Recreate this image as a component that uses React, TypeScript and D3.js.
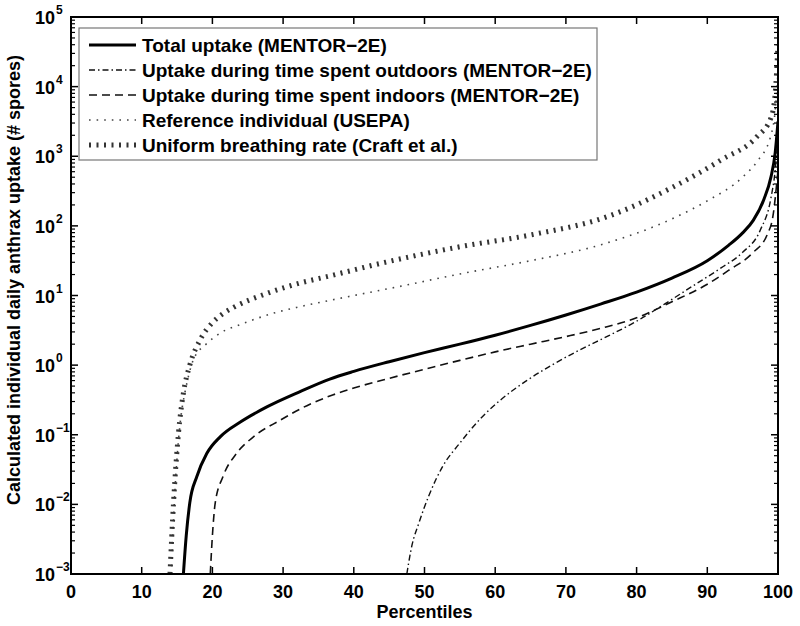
import React from "react";
import * as d3 from "d3";

// ---- data ----
const xTicks = [0, 10, 20, 30, 40, 50, 60, 70, 80, 90, 100];
const yExponents = [-3, -2, -1, 0, 1, 2, 3, 4, 5];

const totalPct = [15.9, 16.3, 16.8, 17.8, 19.2, 21.1, 23.9, 27.7, 32.4, 36.6, 40, 45, 50, 55, 60, 65, 70, 75, 80, 85, 90, 93, 95, 96.5, 98, 99, 99.6, 100];
const totalVal = [0.001, 0.00355, 0.0105, 0.0251, 0.0537, 0.0933, 0.151, 0.251, 0.417, 0.631, 0.813, 1.12, 1.51, 2.0, 2.69, 3.72, 5.25, 7.59, 11.2, 17.8, 31.6, 52.5, 79.4, 120, 240, 501, 1120, 3160];

const outdoorPct = [47.5, 48.2, 49.2, 50.6, 52.6, 55, 58, 61, 64.5, 68, 72, 76, 80, 84, 88, 92, 95, 97.5, 99, 99.6, 100];
const outdoorVal = [0.001, 0.00251, 0.00537, 0.0132, 0.0355, 0.0759, 0.174, 0.331, 0.603, 1.0, 1.66, 2.63, 4.27, 7.59, 13.8, 25.1, 41.7, 87.1, 251, 631, 2000];

const indoorPct = [19.7, 20.0, 20.4, 21.5, 23.4, 25.8, 29.6, 33.8, 37, 40, 45, 50, 55, 60, 65, 70, 75, 80, 85, 90, 93, 96.5, 98.5, 99.3, 100];
const indoorVal = [0.001, 0.00355, 0.0105, 0.0251, 0.0537, 0.0933, 0.162, 0.275, 0.372, 0.468, 0.646, 0.871, 1.17, 1.55, 2.0, 2.57, 3.39, 4.79, 8.13, 14.5, 22.9, 41.7, 75.9, 141, 631];

const refPct = [14.2, 14.6, 15.1, 15.6, 16.1, 16.6, 17.3, 19.2, 21.1, 24.4, 28.6, 32.4, 36.6, 40, 46.5, 55, 65, 75, 85, 90, 95, 97, 99, 99.6, 100];
const refVal = [0.001, 0.01, 0.0631, 0.2, 0.398, 0.684, 1.19, 2.04, 2.88, 3.98, 5.56, 6.92, 8.51, 10, 13.5, 20.4, 31.6, 53.7, 126, 229, 501, 832, 1995, 4467, 15850];

const uniformPct = [14, 14.5, 15.2, 15.9, 16.8, 18.25, 20.1, 21.5, 23, 27.7, 32.4, 36.6, 43.7, 55, 65, 75.8, 85, 92, 97, 99, 99.6, 100];
const uniformVal = [0.001, 0.0105, 0.105, 0.398, 1.0, 2.29, 4.17, 5.5, 6.76, 10.7, 15.1, 19.1, 28.8, 50.1, 74.1, 135, 355, 891, 1905, 3548, 7943, 39811];

const legendLabels = [
  "Total uptake (MENTOR\u22122E)",
  "Uptake during time spent outdoors (MENTOR\u22122E)",
  "Uptake during time spent indoors (MENTOR\u22122E)",
  "Reference individual (USEPA)",
  "Uniform breathing rate (Craft et al.)",
];

const xLabel = "Percentiles";
const yLabel = "Calculated individual daily anthrax uptake (# spores)";

type Style = { width: number; dash?: string; color: string };
const styles: Style[] = [
  { width: 3, color: "#000" },
  { width: 1.4, dash: "6,3,1.5,3", color: "#111" },
  { width: 1.6, dash: "8,5", color: "#111" },
  { width: 1.6, dash: "1.6,6", color: "#444" },
  { width: 5, dash: "2,5.5", color: "#333" },
];

export default function App() {
  const W = 800, H = 626;
  const L = 71, R = 778, T = 17, B = 574;
  const x = d3.scaleLinear().domain([0, 100]).range([L, R]);
  const y = d3.scaleLog().domain([1e-3, 1e5]).range([B, T]);
  const line = d3
    .line<[number, number]>()
    .x((d) => x(d[0]))
    .y((d) => y(d[1]))
    .curve(d3.curveMonotoneX);

  const series: [number[], number[]][] = [
    [totalPct, totalVal],
    [outdoorPct, outdoorVal],
    [indoorPct, indoorVal],
    [refPct, refVal],
    [uniformPct, uniformVal],
  ];

  const minor: number[] = [];
  for (let e = -3; e < 5; e++) for (let k = 2; k <= 9; k++) minor.push(k * Math.pow(10, e));

  const font = "'Liberation Sans', Arial, Helvetica, sans-serif";
  const legendX = 79, legendY = 28, legendW = 518, legendH = 132;

  return (
    <svg width={W} height={H} style={{ position: "absolute", left: 0, top: 0, background: "#fff" }} fontFamily={font}>
      <defs>
        <clipPath id="plotclip">
          <rect x={L} y={T} width={R - L} height={B - T} />
        </clipPath>
      </defs>
      <rect x={0} y={0} width={W} height={H} fill="#fff" />

      {/* curves */}
      <g clipPath="url(#plotclip)">
        {series.map(([p, v], i) => (
          <path
            key={i}
            d={line(p.map((pp, j) => [pp, v[j]] as [number, number])) || ""}
            fill="none"
            stroke={styles[i].color}
            strokeWidth={styles[i].width}
            strokeDasharray={styles[i].dash}
          />
        ))}
      </g>

      {/* x ticks */}
      {xTicks.map((t) => (
        <g key={"x" + t}>
          <line x1={x(t)} x2={x(t)} y1={B} y2={B - 7} stroke="#000" strokeWidth={1.5} />
          <line x1={x(t)} x2={x(t)} y1={T} y2={T + 7} stroke="#000" strokeWidth={1.5} />
          <text x={x(t)} y={598} textAnchor="middle" fontSize={18} fontWeight="bold">
            {t}
          </text>
        </g>
      ))}

      {/* y ticks */}
      {yExponents.map((e) => {
        const yy = y(Math.pow(10, e));
        return (
          <g key={"y" + e}>
            <line x1={L} x2={L + 7} y1={yy} y2={yy} stroke="#000" strokeWidth={1.5} />
            <line x1={R} x2={R - 7} y1={yy} y2={yy} stroke="#000" strokeWidth={1.5} />
            <text x={55} y={yy + 7} textAnchor="end" fontSize={18} fontWeight="bold">
              10
            </text>
            <text x={56} y={yy - 3} textAnchor="start" fontSize={12} fontWeight="bold">
              {e < 0 ? "\u2212" + Math.abs(e) : String(e)}
            </text>
          </g>
        );
      })}
      {minor.map((m, i) => (
        <g key={"m" + i}>
          <line x1={L} x2={L + 4} y1={y(m)} y2={y(m)} stroke="#000" strokeWidth={1.2} />
          <line x1={R} x2={R - 4} y1={y(m)} y2={y(m)} stroke="#000" strokeWidth={1.2} />
        </g>
      ))}

      {/* frame */}
      <rect x={L} y={T} width={R - L} height={B - T} fill="none" stroke="#000" strokeWidth={2} />

      {/* axis labels */}
      <text x={(L + R) / 2} y={618} textAnchor="middle" fontSize={18} fontWeight="bold">
        {xLabel}
      </text>
      <text
        transform={`translate(20,280) rotate(-90)`}
        textAnchor="middle"
        fontSize={18}
        fontWeight="bold"
      >
        {yLabel}
      </text>

      {/* legend */}
      <rect x={legendX} y={legendY} width={legendW} height={legendH} fill="#fff" stroke="#777" strokeWidth={1.2} />
      {legendLabels.map((lab, i) => {
        const cy = 45 + i * 25;
        return (
          <g key={"l" + i}>
            <line x1={89} x2={136} y1={cy} y2={cy} stroke={styles[i].color} strokeWidth={styles[i].width} strokeDasharray={styles[i].dash} />
            <text x={142} y={cy + 7} fontSize={19} fontWeight="bold">
              {lab}
            </text>
          </g>
        );
      })}
    </svg>
  );
}
